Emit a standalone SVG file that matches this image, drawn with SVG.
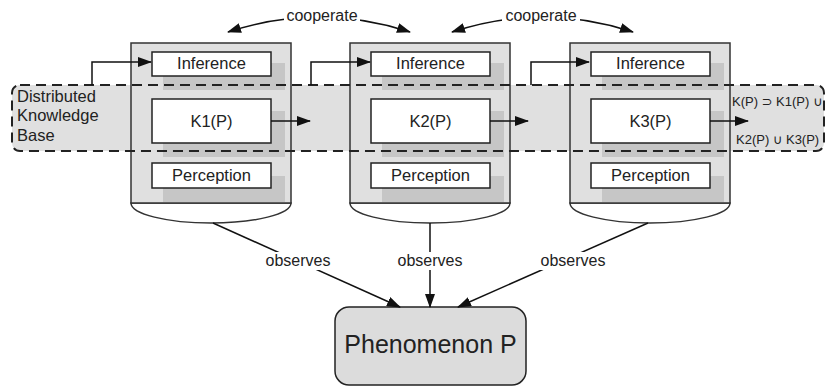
<svg xmlns="http://www.w3.org/2000/svg" width="826" height="387" viewBox="0 0 826 387">
<defs>
<marker id="ah" viewBox="0 0 14 10" refX="13" refY="5" markerWidth="14" markerHeight="10" markerUnits="userSpaceOnUse" orient="auto-start-reverse"><path d="M0,0 L14,5 L0,10 z" fill="#111"/></marker>
<style>
text{font-family:"Liberation Sans",Arial,"DejaVu Sans",sans-serif;fill:#222}
.agent{fill:#e0e0e0;stroke:#333;stroke-width:1.5}
.base{fill:#fff;stroke:#333;stroke-width:1.5}
.shadow{fill:#c6c6c6}
.box{fill:#fff;stroke:#222;stroke-width:1.5}
.lbl{font-size:16.5px;text-anchor:middle}
.small{font-size:16px;text-anchor:middle}
.conn{fill:none;stroke:#111;stroke-width:1.5}
.bg{fill:#fff}
</style>
</defs>
<rect width="826" height="387" fill="#fff"/>

<g id="dkb">
<rect x="12" y="85" width="812" height="66" rx="8" fill="#e0e0e0"/>
<text x="17" y="102" font-size="16.5">Distributed</text>
<text x="17" y="121" font-size="16.5">Knowledge</text>
<text x="17" y="141" font-size="16.5">Base</text>
<text x="732" y="106" font-size="13">K(P) ⊃ K1(P) ∪</text>
<text x="736" y="144" font-size="13">K2(P) ∪ K3(P)</text>
</g>

<g id="agent1">
<path class="base" d="M131,203 A80,20 0 0 0 291,203 Z"/>
<rect class="agent" x="131" y="43" width="160" height="160"/>
<rect class="shadow" x="163" y="63" width="122" height="27"/>
<rect class="shadow" x="163" y="111" width="122" height="46"/>
<rect class="shadow" x="163" y="176" width="122" height="26"/>
<rect class="box" x="152" y="52" width="119" height="24"/>
<text class="lbl" x="211.5" y="69">Inference</text>
<rect class="box" x="152" y="99" width="119" height="44"/>
<text class="lbl" x="211.5" y="127">K1(P)</text>
<rect class="box" x="152" y="163" width="119" height="25"/>
<text class="lbl" x="211.5" y="181">Perception</text>
</g>

<g id="agent2">
<path class="base" d="M350,203 A80,20 0 0 0 510,203 Z"/>
<rect class="agent" x="350" y="43" width="160" height="160"/>
<rect class="shadow" x="382" y="63" width="122" height="27"/>
<rect class="shadow" x="382" y="111" width="122" height="46"/>
<rect class="shadow" x="382" y="176" width="122" height="26"/>
<rect class="box" x="371" y="52" width="119" height="24"/>
<text class="lbl" x="430.5" y="69">Inference</text>
<rect class="box" x="371" y="99" width="119" height="44"/>
<text class="lbl" x="430.5" y="127">K2(P)</text>
<rect class="box" x="371" y="163" width="119" height="25"/>
<text class="lbl" x="430.5" y="181">Perception</text>
</g>

<g id="agent3">
<path class="base" d="M570,203 A80,20 0 0 0 730,203 Z"/>
<rect class="agent" x="570" y="43" width="160" height="160"/>
<rect class="shadow" x="602" y="63" width="122" height="27"/>
<rect class="shadow" x="602" y="111" width="122" height="46"/>
<rect class="shadow" x="602" y="176" width="122" height="26"/>
<rect class="box" x="591" y="52" width="119" height="24"/>
<text class="lbl" x="650.5" y="69">Inference</text>
<rect class="box" x="591" y="99" width="119" height="44"/>
<text class="lbl" x="650.5" y="127">K3(P)</text>
<rect class="box" x="591" y="163" width="119" height="25"/>
<text class="lbl" x="650.5" y="181">Perception</text>
</g>

<g id="dkb-border">
<rect x="12" y="85" width="812" height="66" rx="8" fill="none" stroke="#222" stroke-width="2" stroke-dasharray="10 6"/>
</g>

<g id="phenomenon">
<rect x="335" y="307" width="191" height="78" rx="14" fill="#dcdcdc" stroke="#222" stroke-width="1.5"/>
<text x="430.5" y="353" font-size="25" text-anchor="middle">Phenomenon P</text>
</g>

<g id="connectors">
<path class="conn" d="M92,85 V62 H151" marker-end="url(#ah)"/>
<path class="conn" d="M311,85 V62 H370" marker-end="url(#ah)"/>
<path class="conn" d="M531,85 V62 H589" marker-end="url(#ah)"/>
<path class="conn" d="M271,121 H310" marker-end="url(#ah)"/>
<path class="conn" d="M490,121 H528" marker-end="url(#ah)"/>
<path class="conn" d="M710,121 H748" marker-end="url(#ah)"/>
<path class="conn" d="M228,32 Q319,2 410,32" marker-start="url(#ah)" marker-end="url(#ah)"/>
<path class="conn" d="M452,32 Q542,2 633,32" marker-start="url(#ah)" marker-end="url(#ah)"/>
<path class="conn" d="M213,223 L400,307" marker-end="url(#ah)"/>
<path class="conn" d="M430,223 V307" marker-end="url(#ah)"/>
<path class="conn" d="M648,223 L458,307" marker-end="url(#ah)"/>
<rect class="bg" x="284" y="8" width="76" height="18"/>
<text class="small" x="322" y="21">cooperate</text>
<rect class="bg" x="502" y="8" width="78" height="18"/>
<text class="small" x="541" y="21">cooperate</text>
<rect class="bg" x="262" y="252" width="72" height="18"/>
<text class="small" x="298" y="266">observes</text>
<rect class="bg" x="394" y="252" width="72" height="18"/>
<text class="small" x="430" y="266">observes</text>
<rect class="bg" x="537" y="252" width="72" height="18"/>
<text class="small" x="573" y="266">observes</text>
</g>
</svg>
